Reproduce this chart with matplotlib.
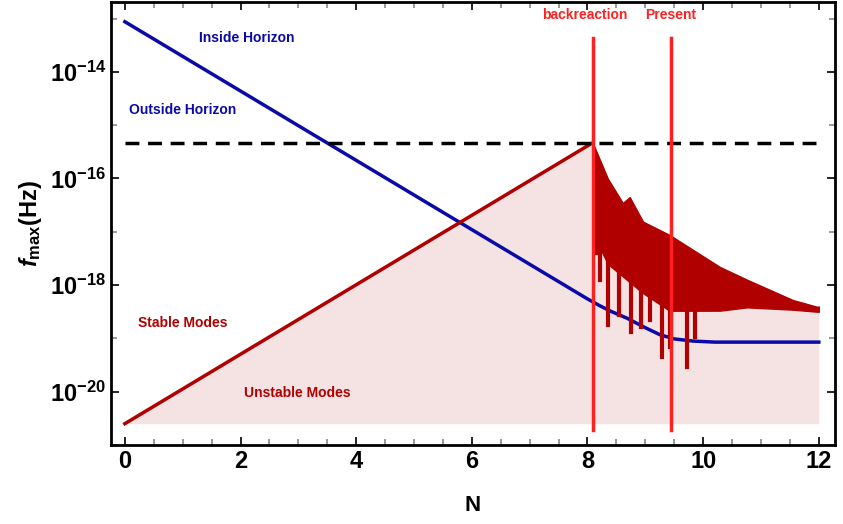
import matplotlib
matplotlib.use("Agg")
import matplotlib.pyplot as plt
import numpy as np

plt.rcParams["font.family"] = "Liberation Sans"
plt.rcParams["font.weight"] = "bold"
plt.rcParams["axes.labelweight"] = "bold"
plt.rcParams["mathtext.fontset"] = "custom"
plt.rcParams["mathtext.rm"] = "Liberation Sans:bold"
plt.rcParams["mathtext.it"] = "Liberation Sans:bold:italic"

# log10(f) values
BLUE_N = [0, 8.0, 8.2, 8.4, 8.68, 9.0, 9.25, 9.5, 9.82, 10.2, 10.6, 12.0]
BLUE_LOG = [-13.06, -18.26, -18.38, -18.49, -18.62, -18.80, -18.93, -19.01, -19.05, -19.07, -19.07, -19.07]
RED_N = [0, 8.09]
RED_LOG = [-20.6, -15.33]
UP_N = [8.09, 8.35, 8.61, 8.73, 8.96, 9.42, 10.29, 10.76, 11.55, 11.98, 12.0]
UP_LOG = [-15.33, -16.0, -16.46, -16.35, -16.81, -17.06, -17.66, -17.90, -18.28, -18.41, -18.40]
LO_N = [8.09, 8.27, 8.68, 9.25, 9.82, 10.0, 10.41, 10.98, 11.98, 12.0]
LO_LOG = [-17.02, -17.53, -17.90, -18.41, -18.65, -18.60, -18.43, -18.41, -18.50, -18.50]
SPIKE_N = [8.14, 8.22, 8.35, 8.54, 8.75, 8.92, 9.08, 9.29, 9.42, 9.72, 9.86]
SPIKE_LOG = [-17.4, -17.9, -18.75, -18.56, -18.88, -18.78, -18.65, -19.35, -19.16, -19.53, -18.97]
HORIZ_LOG = -15.33
FILL_BOTTOM = -20.6
V_LINES = [8.09, 9.44]
V_LABELS = ["backreaction", "Present"]

dark_red = "#b00000"
blue = "#0a0aa8"
p = lambda v: 10 ** np.asarray(v)

fig = plt.figure(figsize=(8.43, 5.24), dpi=100)
ax = fig.add_axes([111 / 843, 1 - 445 / 524, 724 / 843, 443 / 524])

# shaded unstable region
fill_n = RED_N + UP_N[1:]
fill_l = RED_LOG + UP_LOG[1:]
ax.fill_between(fill_n, p(FILL_BOTTOM), p(fill_l), color="#f5e2e2", lw=0)

ax.plot(BLUE_N, p(BLUE_LOG), color=blue, lw=2.5)
ax.plot(RED_N, p(RED_LOG), color=dark_red, lw=2.5)
# oscillating band
lo_i = np.interp(UP_N, LO_N, LO_LOG)
ax.fill_between(UP_N, p(lo_i), p(UP_LOG), color=dark_red, lw=1)
for n, l in zip(SPIKE_N, SPIKE_LOG):
    top = np.interp(n, LO_N, LO_LOG)
    ax.plot([n, n], [p(top + 0.3), p(l)], color=dark_red, lw=3)

ax.axhline(p(HORIZ_LOG), xmin=0.02, xmax=0.985, color="black", ls=(0, (4, 2.5)), lw=2.5)
for x in V_LINES:
    ax.plot([x, x], [p(-20.72), p(-13.36)], color="#ff2020", lw=2.5)
ax.text(7.95, p(-12.93), V_LABELS[0], color="#ff2020", ha="center", va="center", fontsize=10)
ax.text(9.44, p(-12.93), V_LABELS[1], color="#ff2020", ha="center", va="center", fontsize=10)

ax.text(2.1, p(-13.37), "Inside Horizon", color=blue, fontsize=10, ha="center", va="center")
ax.text(1.0, p(-14.72), "Outside Horizon", color=blue, fontsize=10, ha="center", va="center")
ax.text(1.0, p(-18.72), "Stable Modes", color=dark_red, fontsize=10, ha="center", va="center")
ax.text(2.98, p(-20.02), "Unstable Modes", color=dark_red, fontsize=10, ha="center", va="center")

ax.set_yscale("log")
ax.set_xlim(-0.24, 12.28)
ax.set_ylim(p(-21.0), p(-12.69))
ax.set_xticks([0, 2, 4, 6, 8, 10, 12])
ax.set_xticks(np.arange(0, 12.5, 0.5), minor=True)
ax.set_yticks([1e-20, 1e-18, 1e-16, 1e-14])
ax.set_yticks([1e-21, 1e-19, 1e-17, 1e-15, 1e-13], minor=True)
ax.yaxis.set_minor_formatter(matplotlib.ticker.NullFormatter())
ax.tick_params(which="both", direction="in", top=True, right=True, labelsize=17, width=1.2)
ax.tick_params(which="major", length=6)
ax.tick_params(which="minor", length=4, color="#888888")
for s in ax.spines.values():
    s.set_linewidth(2)
ax.set_xlabel("N", fontsize=16, labelpad=16)
ax.set_ylabel(r"$f_{\mathrm{max}}$(Hz)", fontsize=17)
fig.savefig("out.png", dpi=100)
